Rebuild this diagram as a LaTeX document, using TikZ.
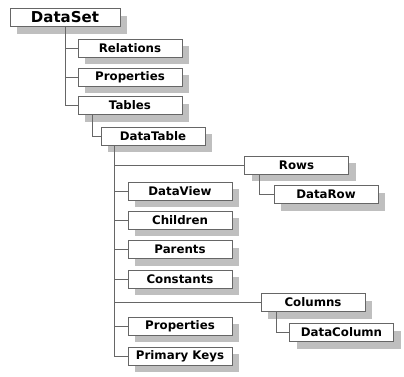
\documentclass[tikz,border=0pt]{standalone}
\usepackage{fontspec}
\setmainfont{DejaVu Sans}
\usetikzlibrary{calc, positioning, shadows}

\begin{document}
\begin{tikzpicture}[
  x=1pt, y=-1pt,
  % all boxes share one size, with a grey shadow to the lower right
  box/.style={rectangle, draw=black!60, line width=0.8pt, fill=white, minimum width=104pt,
    minimum height=18pt, inner sep=0pt, font=\fontsize{11.8}{13}\selectfont\bfseries,
    drop shadow={shadow xshift=7pt, shadow yshift=-7pt, fill=black!25, opacity=1}},
  root/.style={box, minimum width=110pt, font=\fontsize{15}{16}\selectfont\bfseries},
  link/.style={draw=black!60, line width=0.8pt}
]
\useasboundingbox (0,0) rectangle (404,376);

% Top level
\node[root] (dataset) at (65,17.5) {DataSet};
\node[box] (relations) at (130,48) {Relations};
\node[box] (properties) at (130,77) {Properties};
\node[box] (tables) at (130,105.5) {Tables};

% Table and its members
\node[box] (datatable) at (153,136) {DataTable};
\node[box] (rows) at (296.5,165) {Rows};
\node[box] (datarow) at (326,194.5) {DataRow};
\node[box] (dataview) at (180,191) {DataView};
\node[box] (children) at (180,220) {Children};
\node[box] (parents) at (180,249.5) {Parents};
\node[box] (constants) at (180,279) {Constants};
\node[box] (columns) at (313,302.5) {Columns};
\node[box] (datacolumn) at (341.5,332.5) {DataColumn};
\node[box] (tprops) at (180,326) {Properties};
\node[box] (primarykeys) at (180,356) {Primary Keys};

% DataSet branches
\draw[link] (dataset.south) |- (relations.west);
\draw[link] (dataset.south) |- (properties.west);
\draw[link] (dataset.south) |- (tables.west);
\draw[link] ([xshift=15pt]tables.south west) |- (datatable.west);

% DataTable branches (down first, then right)
\draw[link] ([xshift=14pt]datatable.south west) |- (rows.west);
\draw[link] ([xshift=14pt]datatable.south west) |- (dataview.west);
\draw[link] ([xshift=14pt]datatable.south west) |- (children.west);
\draw[link] ([xshift=14pt]datatable.south west) |- (parents.west);
\draw[link] ([xshift=14pt]datatable.south west) |- (constants.west);
\draw[link] ([xshift=14pt]datatable.south west) |- (columns.west);
\draw[link] ([xshift=14pt]datatable.south west) |- (tprops.west);
\draw[link] ([xshift=14pt]datatable.south west) |- (primarykeys.west);

% Rows and Columns children
\draw[link] ([xshift=15pt]rows.south west) |- (datarow.west);
\draw[link] ([xshift=16pt]columns.south west) |- (datacolumn.west);

\end{tikzpicture}
\end{document}
